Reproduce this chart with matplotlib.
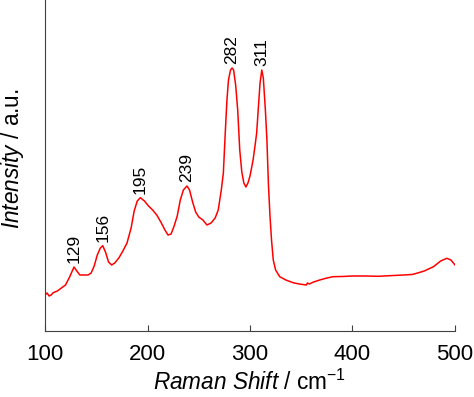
import numpy as np
import matplotlib
matplotlib.use("Agg")
import matplotlib.pyplot as plt

plt.rcParams['font.family'] = ['Liberation Sans', 'DejaVu Sans']
plt.rcParams['mathtext.fontset'] = 'custom'
plt.rcParams['mathtext.rm'] = 'Liberation Sans'
plt.rcParams['mathtext.it'] = 'Liberation Sans:italic'

# Raman spectrum (arbitrary intensity units)
shift = [100, 102, 104, 106, 108, 112, 116, 120, 124, 128.3, 131, 134, 138, 142,
         145, 148, 151, 154, 156.3, 159, 162, 165, 168, 172, 176, 180, 184, 187,
         190, 193, 197, 201, 205, 209, 213, 217, 220, 223, 226, 229, 232, 235,
         238.5, 241, 244, 247, 250, 254, 258, 262, 266, 269, 272, 274, 276,
         277.5, 279, 281, 282.5, 284, 286, 288, 290, 292, 294, 296, 298, 300,
         303, 305, 306.5, 308, 309.8, 311.5, 313, 315, 316.5, 318, 319.5, 321,
         322.7, 325, 329, 335, 342, 348, 355, 356, 358, 362, 368, 375, 381, 390,
         400, 413, 425, 440, 450, 458, 462.6, 470, 479, 486, 492, 496, 500]
intensity_px = [295, 293, 296, 295, 292.7, 291, 288, 285, 277, 267, 271, 275, 275, 275,
                273, 266, 255, 248, 245.7, 252, 262, 265, 263, 258, 251, 243, 228, 211,
                201, 197.7, 201, 206, 210, 215, 222, 230, 235, 234, 226, 216, 200, 190,
                186, 190, 202, 212, 217, 220, 225, 223, 218, 210, 190, 173, 130,
                100, 80, 70, 68, 70, 85, 110, 150, 172, 183, 187, 183, 176,
                160, 145, 133, 110, 83, 70, 78, 110, 140, 185, 216, 240,
                260, 270, 276.7, 280, 282.7, 284, 285, 283, 284, 282, 280, 278, 276.7, 276.5,
                276, 276, 276.3, 275.5, 275, 274.5, 273.3, 271, 266.7, 261, 258.3, 260, 265]
intensity = 331 - np.array(intensity_px)

peaks = [129, 156, 195, 239, 282, 311]
peak_x = [128.3, 156.3, 193, 238.5, 282.5, 311.5]

fig = plt.figure(figsize=(4.74, 3.97), dpi=100)
ax = fig.add_axes([45/474, 66/397, 410/474, 331/397])

ax.plot(shift, intensity, color='#ff0000', lw=1.1)

for lab, px in zip(peaks, peak_x):
    py = np.interp(px, shift, intensity)
    ax.annotate(str(lab), (px, py), xytext=(0, 3), textcoords='offset points',
                rotation=90, ha='center', va='bottom', fontsize=12.5)

ax.set_xlim(100, 500)
ax.set_ylim(0, 331)
ax.set_xticks([100, 200, 300, 400, 500])
ax.set_yticks([])
ax.spines['top'].set_visible(False)
ax.spines['right'].set_visible(False)
ax.spines['left'].set_color('#404040')
ax.spines['bottom'].set_color('#404040')
ax.tick_params(axis='x', direction='in', length=4, color='#404040', labelsize=16, pad=9)

# labels sit right at the figure edge like the original, but kept inside it
ax.set_xlabel(r'$\mathit{Raman\ Shift}$ / cm$^{-1}$', fontsize=16.3, labelpad=3.5)
ax.set_ylabel(r'$\mathit{Intensity}$ / a.u.', fontsize=16.3, labelpad=14)
ax.yaxis.label.set_y(0.52)

fig.savefig('out.png', dpi=100)
